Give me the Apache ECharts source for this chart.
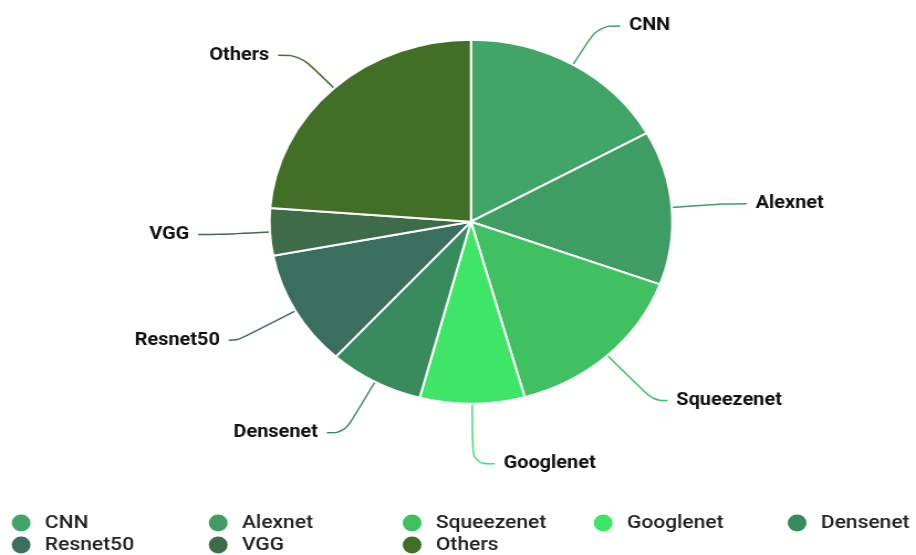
<!DOCTYPE html>
<html>
<head>
<meta charset="utf-8">
<script src="https://cdn.jsdelivr.net/npm/echarts@6/dist/echarts.min.js"></script>
<style>
html,body{margin:0;padding:0;background:#fff;overflow:hidden;width:916px;height:555px;}
#c{width:828px;height:555px;transform:scaleX(1.1063);transform-origin:0 0;}
</style>
</head>
<body>
<div id="c"></div>
<script>
const categories = ['CNN','Alexnet','Squeezenet','Googlenet','Densenet','Resnet50','VGG','Others'];
const values = [16.9, 13.7, 15.1, 8.4, 7.6, 10.3, 4.2, 23.8];
const colors = ['#40a567','#3d9d63','#3fc162','#3de667','#388b5c','#3a6e5e','#3e6c48','#416f26'];
// label-line styling per slice (lengths of the two leader segments)
const leaderLen1 = [45, 48, 61, 60, 58, 60, 45, 45];
const leaderLen2 = [20, 20, 13, 20, 16, 8, 20, 20];
const legendCols = [8.6, 186.7, 362, 534.7, 710];
const legendRows = [512.5, 534.5];

const chart = echarts.init(document.getElementById('c'));
const legends = categories.map((name, i) => ({
  data: [name],
  left: legendCols[i % 5],
  top: legendRows[Math.floor(i / 5)],
  padding: 0,
  icon: 'circle',
  itemWidth: 19,
  itemHeight: 19,
  selectedMode: false,
  textStyle: {fontFamily: 'Roboto', fontSize: 19, fontWeight: 500, color: '#222', padding: [0,0,0,7]}
}));
chart.setOption({
  animation: false,
  color: colors,
  legend: legends,
  series: [{
    type: 'pie',
    center: [425.7, 221.7],
    radius: [0, 182],
    startAngle: 90,
    clockwise: true,
    data: categories.map((n, i) => ({
      name: n, value: values[i],
      labelLine: {length: leaderLen1[i], length2: leaderLen2[i]}
    })),
    itemStyle: {borderColor: '#fff', borderWidth: 2},
    label: {show: true, position: 'outside', formatter: '{b}', fontFamily: 'Roboto', fontSize: 18, fontWeight: 'bold', color: '#111', distanceToLabelLine: 8},
    labelLine: {show: true, length: 45, length2: 20, smooth: 0.4, lineStyle: {width: 1.5}},
    emphasis: {disabled: true}
  }]
});
</script>
</body>
</html>
